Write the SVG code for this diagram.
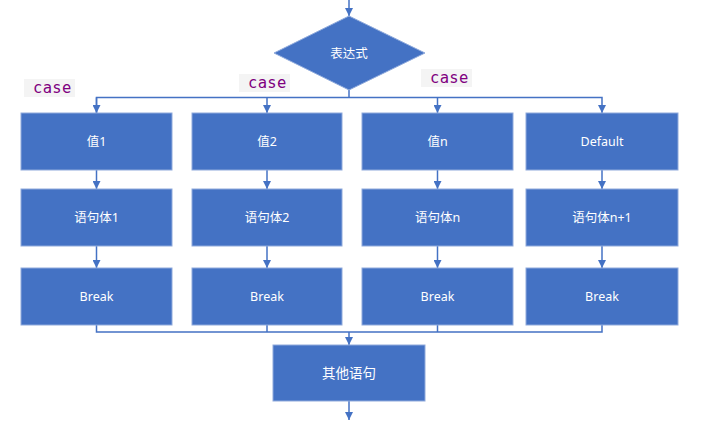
<svg xmlns="http://www.w3.org/2000/svg" width="707" height="427" viewBox="0 0 707 427">
<style>
.box{fill:#4472C4;stroke:#8FAADC;stroke-width:1}
.t{fill:#fff;font-family:"Noto Sans","Noto Sans CJK SC",sans-serif;font-size:12.5px;text-anchor:middle;dominant-baseline:central}
.c{fill:none;stroke:#4472C4;stroke-width:1.5}
.case{fill:#800080;font-family:"DejaVu Sans Mono","Liberation Mono",monospace;font-size:15.5px;letter-spacing:0.3px}
.cbg{fill:#F4F4F4}
</style>
<defs>
<marker id="ah" viewBox="0 0 10 10" refX="10" refY="5" markerWidth="8" markerHeight="8" markerUnits="userSpaceOnUse" orient="auto">
<path d="M0,0 L10,5 L0,10 z" fill="#4472C4"/>
</marker>
</defs>
<rect width="707" height="427" fill="#fff"/>
<g id="labels">
<rect class="cbg" x="24" y="79" width="51" height="18"/>
<text class="case" x="33" y="93">case</text>
<rect class="cbg" x="239" y="74" width="51" height="18"/>
<text class="case" x="248" y="88">case</text>
<rect class="cbg" x="421" y="69" width="51" height="18"/>
<text class="case" x="430" y="83">case</text>
</g>
<g id="connectors">
<line class="c" x1="349" y1="0" x2="349" y2="16" marker-end="url(#ah)"/>
<polyline class="c" points="349,90 349,97.5"/>
<polyline class="c" points="96.5,113 96.5,97.5 602,97.5 602,113" marker-end="url(#ah)"/>
<line class="c" x1="96.5" y1="97.5" x2="96.5" y2="113" marker-end="url(#ah)"/>
<line class="c" x1="267" y1="97.5" x2="267" y2="113" marker-end="url(#ah)"/>
<line class="c" x1="437.5" y1="97.5" x2="437.5" y2="113" marker-end="url(#ah)"/>
<line class="c" x1="96.5" y1="170" x2="96.5" y2="189" marker-end="url(#ah)"/>
<line class="c" x1="267" y1="170" x2="267" y2="189" marker-end="url(#ah)"/>
<line class="c" x1="437.5" y1="170" x2="437.5" y2="189" marker-end="url(#ah)"/>
<line class="c" x1="602" y1="170" x2="602" y2="189" marker-end="url(#ah)"/>
<line class="c" x1="96.5" y1="246" x2="96.5" y2="268" marker-end="url(#ah)"/>
<line class="c" x1="267" y1="246" x2="267" y2="268" marker-end="url(#ah)"/>
<line class="c" x1="437.5" y1="246" x2="437.5" y2="268" marker-end="url(#ah)"/>
<line class="c" x1="602" y1="246" x2="602" y2="268" marker-end="url(#ah)"/>
<polyline class="c" points="96.5,325 96.5,332 602,332 602,325"/>
<line class="c" x1="267" y1="325" x2="267" y2="332"/>
<line class="c" x1="437.5" y1="325" x2="437.5" y2="332"/>
<line class="c" x1="349" y1="332" x2="349" y2="345" marker-end="url(#ah)"/>
<line class="c" x1="349" y1="401" x2="349" y2="420" marker-end="url(#ah)"/>
</g>
<g id="cond">
<polygon points="349,16 425,53 349,90 274,53" fill="#4472C4" stroke="#8FAADC" stroke-width="1"/>
<text class="t" x="349" y="53">表达式</text>
</g>
<g id="v1"><rect class="box" x="21" y="113" width="151" height="57"/><text class="t" x="96.5" y="141.5">值1</text></g>
<g id="v2"><rect class="box" x="192" y="113" width="150" height="57"/><text class="t" x="267" y="141.5">值2</text></g>
<g id="vn"><rect class="box" x="362" y="113" width="151" height="57"/><text class="t" x="437.5" y="141.5">值n</text></g>
<g id="vd"><rect class="box" x="526" y="113" width="152" height="57"/><text class="t" x="602" y="141.5">Default</text></g>
<g id="s1"><rect class="box" x="21" y="189" width="151" height="57"/><text class="t" x="96.5" y="217.5">语句体1</text></g>
<g id="s2"><rect class="box" x="192" y="189" width="150" height="57"/><text class="t" x="267" y="217.5">语句体2</text></g>
<g id="sn"><rect class="box" x="362" y="189" width="151" height="57"/><text class="t" x="437.5" y="217.5">语句体n</text></g>
<g id="sd"><rect class="box" x="526" y="189" width="152" height="57"/><text class="t" x="602" y="217.5">语句体n+1</text></g>
<g id="b1"><rect class="box" x="21" y="268" width="151" height="57"/><text class="t" x="96.5" y="296.5">Break</text></g>
<g id="b2"><rect class="box" x="192" y="268" width="150" height="57"/><text class="t" x="267" y="296.5">Break</text></g>
<g id="bn"><rect class="box" x="362" y="268" width="151" height="57"/><text class="t" x="437.5" y="296.5">Break</text></g>
<g id="bd"><rect class="box" x="526" y="268" width="152" height="57"/><text class="t" x="602" y="296.5">Break</text></g>
<g id="other"><rect class="box" x="273" y="345" width="152" height="56"/><text class="t" x="349" y="373" style="font-size:13.5px">其他语句</text></g>
</svg>
